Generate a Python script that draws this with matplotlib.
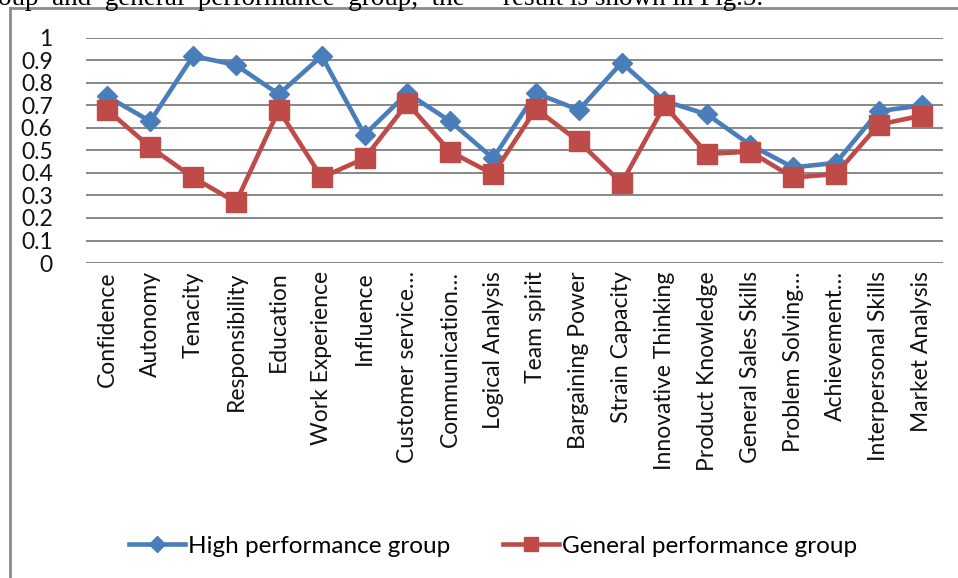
import matplotlib
matplotlib.use("Agg")
import matplotlib.pyplot as plt
from matplotlib.lines import Line2D

categories = ["Confidence", "Autonomy", "Tenacity", "Responsibility", "Education",
              "Work Experience", "Influence", "Customer service…", "Communication…",
              "Logical Analysis", "Team spirit", "Bargaining Power", "Strain Capacity",
              "Innovative Thinking", "Product Knowledge", "General Sales Skills",
              "Problem Solving…", "Achievement…", "Interpersonal Skills", "Market Analysis"]
high = [0.74, 0.63, 0.92, 0.88, 0.75, 0.92, 0.57, 0.755, 0.63, 0.465,
        0.755, 0.68, 0.89, 0.72, 0.66, 0.525, 0.425, 0.445, 0.675, 0.70]
general = [0.68, 0.515, 0.38, 0.27, 0.68, 0.38, 0.465, 0.71, 0.495, 0.395,
           0.685, 0.54, 0.355, 0.70, 0.485, 0.495, 0.38, 0.395, 0.615, 0.655]
yticks = [0, 0.1, 0.2, 0.3, 0.4, 0.5, 0.6, 0.7, 0.8, 0.9, 1]
ytick_labels = ["0", "0.1", "0.2", "0.3", "0.4", "0.5", "0.6", "0.7", "0.8", "0.9", "1"]
series_names = ["High performance group", "General performance group"]

W, H = 958, 578
fig = plt.figure(figsize=(W / 100, H / 100), dpi=100)
fig.patch.set_facecolor("white")
plt.rcParams['font.family'] = ['Lato', 'DejaVu Sans']

# clipped paragraph text at top
fig.text(-2 / W, 1 - 5 / H, "oup  and  general  performance  group,  the",
         family="Liberation Serif", fontsize=19.5, va="baseline", ha="left", color="black")
fig.text(503 / W, 1 - 5 / H, "result is shown in Fig.5.",
         family="Liberation Serif", fontsize=19.5, va="baseline", ha="left", color="black")

# chart frame (left and top edges visible)
frame_col = "#8c8c8c"
fig.add_artist(Line2D([10 / W, 10 / W], [0, 1 - 8 / H], color=frame_col, lw=2))
fig.add_artist(Line2D([10 / W, 1], [1 - 8 / H, 1 - 8 / H], color=frame_col, lw=2))

left, right, top, bottom = 86, 943, 38, 263
ax = fig.add_axes([left / W, 1 - bottom / H, (right - left) / W, (bottom - top) / H])
x = list(range(len(categories)))
ax.set_xlim(-0.5, len(categories) - 0.5)
ax.set_ylim(0, 1)
for s in ax.spines.values():
    s.set_visible(False)
ax.set_yticks(yticks)
ax.set_yticklabels(ytick_labels)
ax.yaxis.grid(True, color="#878787", lw=1.4)
ax.set_axisbelow(True)
ax.tick_params(axis="y", length=0, pad=24, labelsize=16.5, colors="#111111")
ax.set_xticks(x)
ax.set_xticklabels(categories, rotation=90, ha="center", va="top")
ax.tick_params(axis="x", length=0, pad=6, labelsize=16.5, colors="#111111")
ax.set_facecolor("none")

blue = "#4A7EBB"
red = "#BE4B48"
ax.plot(x, high, color=blue, lw=3.3, marker="D", ms=10.5, mec=blue, mfc=blue,
        label=series_names[0], zorder=3, clip_on=False)
ax.plot(x, general, color=red, lw=3.3, marker="s", ms=14, mec=red, mfc=red,
        label=series_names[1], zorder=4, clip_on=False)

handles = [Line2D([], [], color=blue, lw=3.3, marker="D", ms=8),
           Line2D([], [], color=red, lw=3.3, marker="s", ms=10)]
fig.legend(handles, series_names, loc="center", bbox_to_anchor=(493 / W, 1 - 546 / H),
           ncol=2, frameon=False, fontsize=17.5, handlelength=2.3, handletextpad=0.1,
           columnspacing=2.2)

fig.savefig("out.png", dpi=100, facecolor="white")
